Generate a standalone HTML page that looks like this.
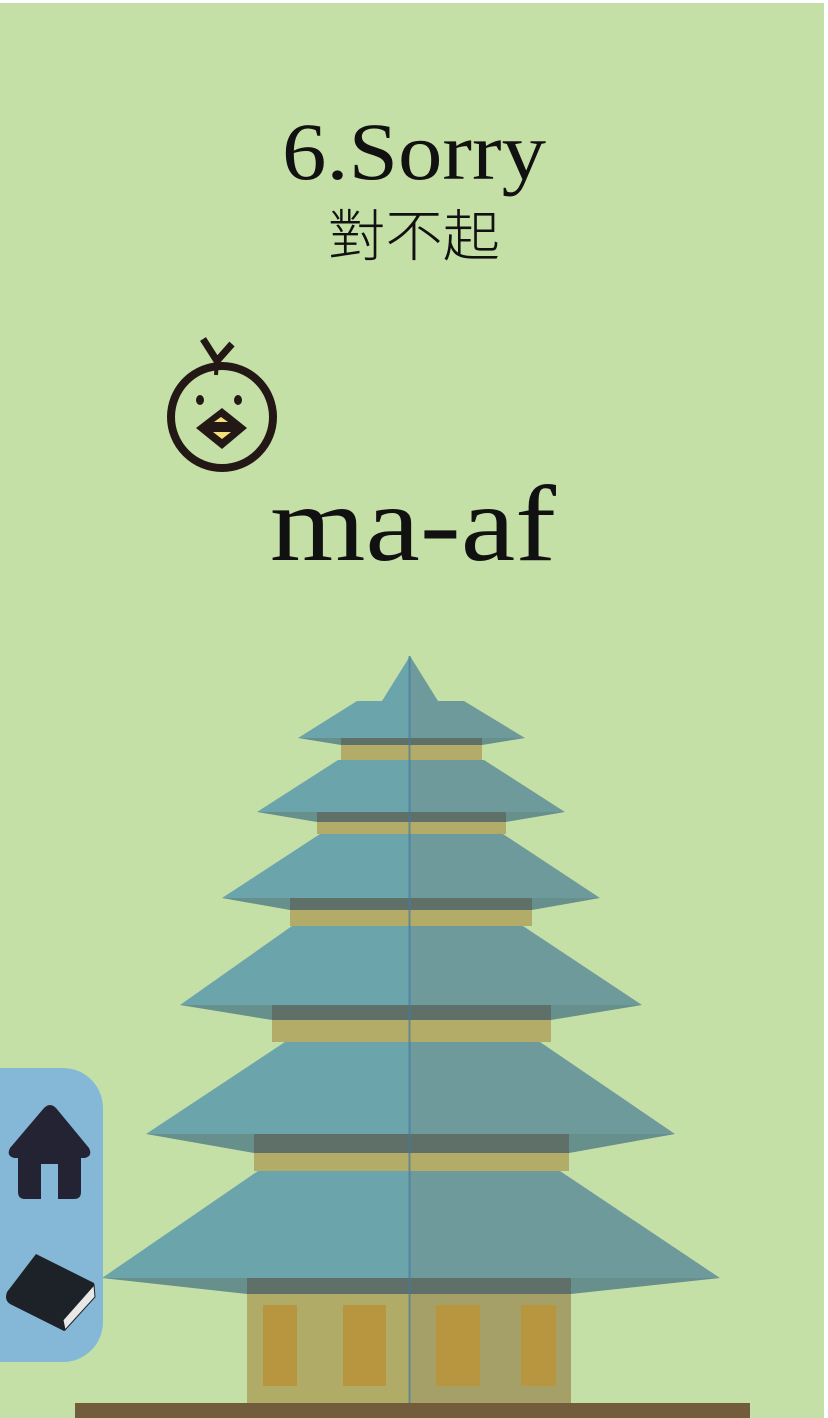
<!DOCTYPE html>
<html><head><meta charset="utf-8"><style>
html,body{margin:0;padding:0;background:#fff;}
svg{display:block;}
</style></head><body>
<svg width="828" height="1418" viewBox="0 0 828 1418">
<rect x="0" y="3" width="824" height="1415" fill="#c5e0a6"/>
<text x="414" y="179" text-anchor="middle" font-family="Liberation Serif, serif" font-size="82" textLength="264" lengthAdjust="spacingAndGlyphs" fill="#111">6.Sorry</text>
<text x="414" y="256" text-anchor="middle" font-family="Liberation Sans, Noto Sans CJK TC, sans-serif" font-weight="300" font-size="56" textLength="172" lengthAdjust="spacingAndGlyphs" fill="#111">對不起</text>
<g fill="none" stroke="#231815">
<circle cx="222" cy="417" r="51" stroke-width="8"/>
<path d="M203,339 L217,361 L232,344" stroke-width="7"/>
<path d="M217,358 L216,375" stroke-width="4"/>
<ellipse cx="200" cy="400" rx="4" ry="5" fill="#231815" stroke="none"/>
<ellipse cx="238" cy="400" rx="4" ry="5" fill="#231815" stroke="none"/>
<polygon points="196,428 222,408 247,428 222,449" fill="#231815" stroke="none"/>
<polygon points="214,422 228,422 221,417" fill="#f4e07a" stroke="none"/>
<polygon points="213,432 231,432 222,439" fill="#f4e07a" stroke="none"/>
</g>
<text x="413" y="560" text-anchor="middle" font-family="Liberation Serif, serif" font-size="108" textLength="286" lengthAdjust="spacingAndGlyphs" fill="#111">ma-af</text>
<g>
<rect x="75" y="1403" width="675" height="15" fill="#735c3b"/>
<rect x="247" y="1278" width="324" height="125" fill="#b1ab68"/>
<rect x="410" y="1278" width="161" height="125" fill="#a5a068"/>
<g fill="#b8963f">
<rect x="263" y="1305" width="34" height="81"/><rect x="343" y="1305" width="43" height="81"/>
<rect x="436" y="1305" width="44" height="81"/><rect x="521" y="1305" width="35" height="81"/>
</g>
<g fill="#b3ab68">
<rect x="341" y="738" width="141" height="22"/>
<rect x="317" y="812" width="189" height="22"/>
<rect x="290" y="898" width="242" height="28"/>
<rect x="272" y="1005" width="279" height="37"/>
<rect x="254" y="1134" width="315" height="37"/>
</g>
<g fill="#5f7069">
<rect x="341" y="738" width="141" height="7"/>
<rect x="317" y="812" width="189" height="10"/>
<rect x="290" y="898" width="242" height="12"/>
<rect x="272" y="1005" width="279" height="15"/>
<rect x="254" y="1134" width="315" height="19"/>
<rect x="247" y="1278" width="324" height="16"/>
</g>
<g fill="#6ba4ab">
<polygon points="410,656 382,701 410,701"/>
<polygon points="357,701 410,701 410,738 298,738"/>
<polygon points="338,760 410,760 410,812 257,812"/>
<polygon points="320,834 410,834 410,898 222,898"/>
<polygon points="292,926 410,926 410,1005 180,1005"/>
<polygon points="285,1042 410,1042 410,1134 146,1134"/>
<polygon points="258,1171 410,1171 410,1278 102,1278"/>
</g>
<g fill="#6f9a9c">
<polygon points="410,656 438,701 410,701"/>
<polygon points="410,701 464,701 525,738 410,738"/>
<polygon points="410,760 484,760 565,812 410,812"/>
<polygon points="410,834 503,834 600,898 410,898"/>
<polygon points="410,926 523,926 642,1005 410,1005"/>
<polygon points="410,1042 540,1042 675,1134 410,1134"/>
<polygon points="410,1171 560,1171 720,1278 410,1278"/>
</g>
<g fill="#678f8c">
<polygon points="298,738 341,738 341,745"/><polygon points="525,738 482,738 482,745"/>
<polygon points="257,812 317,812 317,822"/><polygon points="565,812 506,812 506,822"/>
<polygon points="222,898 290,898 290,910"/><polygon points="600,898 532,898 532,910"/>
<polygon points="180,1005 272,1005 272,1020"/><polygon points="642,1005 551,1005 551,1020"/>
<polygon points="146,1134 254,1134 254,1153"/><polygon points="675,1134 569,1134 569,1153"/>
<polygon points="102,1278 247,1278 247,1294"/><polygon points="720,1278 571,1278 571,1294"/>
</g>
<rect x="408.5" y="656" width="2" height="747" fill="#4579a0" opacity="0.7"/>
</g>
<g>
<rect x="-40" y="1068" width="143" height="294" rx="40" fill="#85b8d6"/>
<path d="M50,1105 Q47,1105 44,1108 L10,1148 Q6,1156 14,1158 L18,1158 L18,1192 Q18,1199 25,1199 L41,1199 L41,1164 L58,1164 L58,1199 L74,1199 Q81,1199 81,1192 L81,1158 L85,1158 Q93,1156 89,1148 L56,1108 Q53,1105 50,1105 Z" fill="#242333"/>
<g>
<path d="M36,1254 L94,1283 L95,1297 L64,1331 L10,1304 Q4,1300 7,1292 Z" fill="#1d2228"/>
<path d="M94,1285 L95,1297 L65,1330 L63,1320 Z" fill="#e8e8e8" stroke="#1d2228" stroke-width="1"/>
</g>
</g>
</svg>
</body></html>
